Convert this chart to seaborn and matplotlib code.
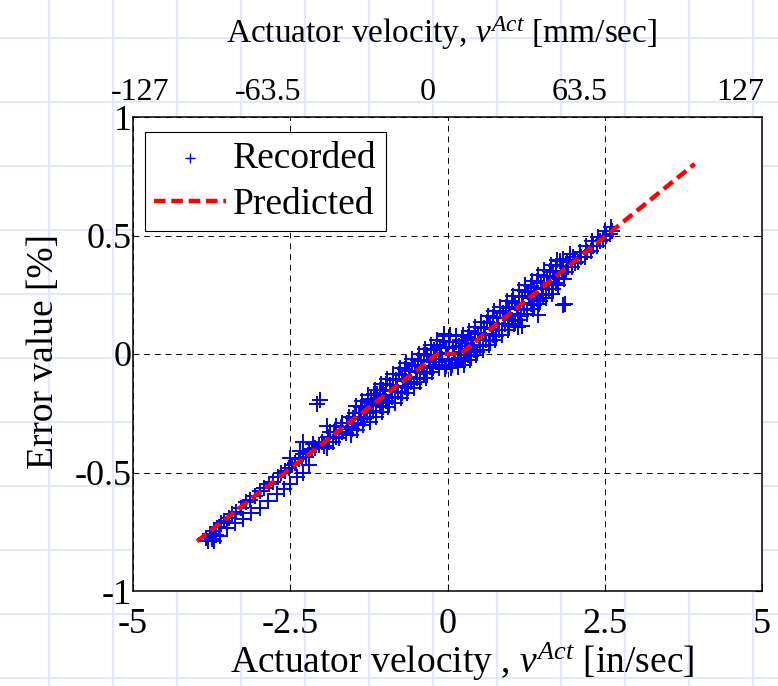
import numpy as np
import matplotlib
matplotlib.use('Agg')
import matplotlib.pyplot as plt
import seaborn as sns
from matplotlib.lines import Line2D

# 样式：白底，黑色文字，Times 风格字体
sns.set_style('white', rc={'axes.edgecolor': 'k', 'text.color': 'k', 'axes.labelcolor': 'k',
                           'xtick.color': 'k', 'ytick.color': 'k'})
plt.rcParams['font.family'] = ['Liberation Serif', 'DejaVu Serif']
plt.rcParams['mathtext.fontset'] = 'custom'
plt.rcParams['mathtext.rm'] = 'Liberation Serif'
plt.rcParams['mathtext.it'] = 'Liberation Serif:italic'

# ==================== 刻度 ====================
x_ticks = [-5, -2.5, 0, 2.5, 5]
x_labels = ['-5', '-2.5', '0', '2.5', '5']
y_ticks = [-1, -0.5, 0, 0.5, 1]
y_labels = ['-1', '-0.5', '0', '0.5', '1']
top_labels = ['-127', '-63.5', '0', '63.5', '127']
top_pos = [-124, -72.5, -8, 53.5, 118]  # mm/sec, where the top labels sit

# ==================== 预测曲线 ====================
pred_x = [-3.98, -3.0, -2.0, -1.0, -0.35, -0.22, -0.15, 0.0, 0.2, 0.28, 0.4, 1.0, 2.0, 3.0, 3.93]
pred_y = [-0.79, -0.587, -0.381, -0.175, -0.041, -0.012, 0.0, 0.0, 0.0, 0.014, 0.043, 0.172, 0.387, 0.602, 0.802]

# ==================== 记录数据 ====================
# 左下稀疏部分（沿线）
sparse_x = [-3.84, -3.80, -3.78, -3.75, -3.72, -3.68, -3.64, -3.60, -3.55, -3.48, -3.42, -3.36,
            -3.28, -3.20, -3.14, -3.06, -2.98, -2.92, -2.84, -2.78, -2.70, -2.64, -2.58, -2.52,
            -2.47, -2.42, -2.36, -2.30, -2.25, -2.20, -2.15, -2.10, -2.05, -2.00, -1.96]
sparse_y = [-0.775, -0.790, -0.760, -0.780, -0.745, -0.765, -0.730, -0.715, -0.705, -0.690, -0.675, -0.665,
            -0.650, -0.625, -0.615, -0.600, -0.580, -0.565, -0.550, -0.540, -0.520, -0.500, -0.495, -0.480,
            -0.470, -0.460, -0.445, -0.420, -0.435, -0.415, -0.400, -0.395, -0.385, -0.370, -0.390]
# 线下方的一串点
streak_x = [-3.72, -3.62, -3.50, -3.38, -3.25, -3.12, -2.98, -2.85, -2.71, -2.60, -2.50, -2.40, -2.30, -2.20]
streak_y = [-0.790, -0.770, -0.735, -0.715, -0.695, -0.672, -0.650, -0.620, -0.590, -0.570, -0.550, -0.520,
            -0.500, -0.470]
# 离群点
outlier_x = [-2.50, -2.35, -2.30, -2.14, -1.92, -2.07, -2.02, 1.87, 1.83, 1.44, 1.18, 1.12, 1.79, -0.05]
outlier_y = [-0.440, -0.410, -0.370, -0.380, -0.305, -0.210, -0.195, 0.210, 0.205, 0.165, 0.120, 0.115,
             0.394, 0.085]
# 中间密集带
band_x = [-1.92, -1.88, -1.90, -1.87, -1.82, -1.78, -1.80, -1.77, -1.72, -1.68, -1.70, -1.67,
          -1.62, -1.58, -1.60, -1.57, -1.52, -1.48, -1.50, -1.47, -1.42, -1.38, -1.40, -1.37,
          -1.32, -1.28, -1.30, -1.27,
          -1.23, -1.18, -1.20, -1.22, -1.17, -1.13, -1.08, -1.10, -1.12, -1.07,
          -1.03, -0.98, -1.00, -1.02, -0.97, -0.93, -0.88, -0.90, -0.92, -0.87,
          -0.83, -0.78, -0.80, -0.82, -0.77, -0.73, -0.68, -0.70, -0.72, -0.67,
          -0.63, -0.58, -0.60, -0.62, -0.57, -0.53, -0.48, -0.50, -0.52, -0.47,
          -0.43, -0.38, -0.40, -0.42, -0.37, -0.33, -0.28, -0.30, -0.32, -0.27,
          -0.23, -0.18, -0.20, -0.22, -0.17, -0.13, -0.08, -0.10, -0.12, -0.07,
          -0.03, 0.02, 0.00, -0.02, 0.03, 0.07, 0.12, 0.10, 0.08, 0.13,
          0.17, 0.22, 0.20, 0.18, 0.23, 0.27, 0.32, 0.30, 0.28, 0.33,
          0.37, 0.42, 0.40, 0.38, 0.43, 0.47, 0.52, 0.50, 0.48, 0.53,
          0.57, 0.62, 0.60, 0.58, 0.63, 0.67, 0.72, 0.70, 0.68, 0.73,
          0.77, 0.82, 0.80, 0.78, 0.83, 0.87, 0.92, 0.90, 0.88, 0.93,
          0.97, 1.02, 1.00, 0.98, 1.03, 1.07, 1.12, 1.10, 1.08, 1.13,
          1.17, 1.22, 1.20, 1.18, 1.23, 1.27, 1.32, 1.30, 1.28, 1.33,
          1.37, 1.42, 1.40, 1.38, 1.43, 1.47, 1.52, 1.50, 1.48, 1.53,
          1.57, 1.62, 1.60, 1.58, 1.63, 1.67, 1.72, 1.70, 1.68, 1.73,
          1.78, 1.82, 1.80, 1.88, 1.92, 1.90, 1.98, 2.02, 2.00,
          2.08, 2.12, 2.10, 2.18, 2.22, 2.20, 2.28, 2.32, 2.30,
          2.38, 2.42, 2.40, 2.48, 2.52, 2.50, 2.58, 2.62, 2.60]
band_y = [-0.395, -0.372, -0.350, -0.330, -0.370, -0.350, -0.330, -0.305, -0.355, -0.330, -0.310, -0.290,
          -0.335, -0.310, -0.290, -0.265, -0.315, -0.290, -0.270, -0.250, -0.295, -0.270, -0.250, -0.225,
          -0.275, -0.250, -0.230, -0.205,
          -0.265, -0.240, -0.215, -0.190, -0.170, -0.245, -0.220, -0.195, -0.170, -0.150,
          -0.225, -0.200, -0.175, -0.150, -0.125, -0.205, -0.180, -0.155, -0.130, -0.105,
          -0.185, -0.160, -0.135, -0.110, -0.085, -0.165, -0.140, -0.115, -0.090, -0.065,
          -0.145, -0.120, -0.095, -0.070, -0.045, -0.125, -0.100, -0.075, -0.050, -0.025,
          -0.105, -0.080, -0.055, -0.030, -0.005, -0.080, -0.055, -0.030, -0.005, 0.020,
          -0.060, -0.035, -0.010, 0.015, 0.040, -0.045, -0.020, 0.005, 0.030, 0.055,
          -0.050, -0.025, 0.000, 0.025, 0.050, -0.045, -0.020, 0.005, 0.030, 0.050,
          -0.040, -0.015, 0.010, 0.035, 0.060, -0.030, -0.005, 0.020, 0.045, 0.070,
          -0.010, 0.015, 0.040, 0.065, 0.090, 0.010, 0.035, 0.060, 0.085, 0.110,
          0.035, 0.060, 0.085, 0.110, 0.135, 0.055, 0.080, 0.105, 0.130, 0.155,
          0.075, 0.100, 0.125, 0.150, 0.180, 0.100, 0.125, 0.150, 0.175, 0.200,
          0.120, 0.145, 0.170, 0.195, 0.225, 0.140, 0.165, 0.190, 0.215, 0.245,
          0.160, 0.190, 0.215, 0.240, 0.265, 0.185, 0.210, 0.235, 0.260, 0.285,
          0.205, 0.230, 0.255, 0.280, 0.310, 0.225, 0.250, 0.275, 0.300, 0.330,
          0.250, 0.275, 0.300, 0.325, 0.350, 0.275, 0.300, 0.320, 0.345, 0.370,
          0.320, 0.345, 0.370, 0.345, 0.365, 0.390, 0.365, 0.385, 0.410,
          0.390, 0.410, 0.430, 0.410, 0.430, 0.455, 0.435, 0.455, 0.475,
          0.455, 0.475, 0.495, 0.480, 0.500, 0.520, 0.505, 0.520, 0.535]
# 密集带的上下边缘
edge_x = [-1.46, -1.54, -1.36, -1.44, -1.26, -1.34, -1.16, -1.24, -1.06, -1.14, -0.96, -1.04,
          -0.86, -0.94, -0.76, -0.84, -0.66, -0.74, -0.56, -0.64, -0.46, -0.54, -0.36, -0.44,
          -0.26, -0.34, -0.16, -0.24, -0.06, -0.14, 0.04, -0.04, 0.14, 0.06, 0.24, 0.16,
          0.34, 0.26, 0.44, 0.36, 0.54, 0.46, 0.64, 0.56, 0.74, 0.66, 0.84, 0.76,
          0.94, 0.86, 1.04, 0.96, 1.14, 1.06, 1.24, 1.16, 1.34, 1.26, 1.44, 1.36,
          1.54, 1.46, 1.64, 1.56, 1.74, 1.66, 1.84, 1.76, 1.94, 1.86]
edge_y = [-0.220, -0.340, -0.200, -0.320, -0.175, -0.300, -0.150, -0.285, -0.125, -0.265, -0.105, -0.245,
          -0.085, -0.225, -0.060, -0.205, -0.040, -0.185, -0.020, -0.165, 0.000, -0.145, 0.020, -0.120,
          0.040, -0.100, 0.060, -0.075, 0.075, -0.060, 0.080, -0.065, 0.075, -0.060, 0.080, -0.055,
          0.095, -0.045, 0.115, -0.025, 0.135, -0.005, 0.160, 0.015, 0.180, 0.040, 0.200, 0.060,
          0.225, 0.080, 0.245, 0.100, 0.270, 0.125, 0.290, 0.145, 0.310, 0.170, 0.335, 0.190,
          0.355, 0.210, 0.375, 0.235, 0.395, 0.255, 0.400, 0.290, 0.420, 0.315]

rec_x = sparse_x + streak_x + outlier_x + band_x + edge_x
rec_y = sparse_y + streak_y + outlier_y + band_y + edge_y

# ==================== 绘图 ====================
W, H = 778, 686
fig = plt.figure(figsize=(W / 100, H / 100), dpi=100)

# 背景的浅蓝色方格
for gx in np.arange(49.3, W, 64):
    fig.add_artist(Line2D([gx / W, gx / W], [0, 1], transform=fig.transFigure,
                          color='#e3e9fb', lw=1.6, zorder=-5))
for gy in np.arange(38.3, H, 64):
    fig.add_artist(Line2D([0, 1], [1 - gy / H, 1 - gy / H], transform=fig.transFigure,
                          color='#e3e9fb', lw=1.6, zorder=-5))

ax = fig.add_axes([133 / W, 95 / H, 629 / W, 474 / H])
ax.set_facecolor('white')

sns.scatterplot(x=rec_x, y=rec_y, marker='+', color='#0000ff', s=130, linewidth=1.4,
                ax=ax, label='Recorded', zorder=3)
sns.lineplot(x=pred_x, y=pred_y, color='#ff0000', lw=3.2, linestyle=(0, (2.6, 1.3)),
             ax=ax, label='Predicted', zorder=4)

ax.set_xlim(-5, 5)
ax.set_ylim(-1, 1)
ax.set_xticks(x_ticks)
ax.set_xticklabels(x_labels)
ax.set_yticks(y_ticks)
ax.set_yticklabels(y_labels)
ax.grid(True, color='k', ls=(0, (6, 5)), lw=0.7)
ax.set_axisbelow(True)
ax.tick_params(direction='in', length=5, width=0.8, top=True, right=True, labelsize=26)
ax.tick_params(axis='x', pad=12)
ax.tick_params(axis='y', pad=1)
for sp in ax.spines.values():
    sp.set_linewidth(1.1)
    sp.set_color('k')

ax.set_xlabel('Actuator velocity , $v^{Act}$ [in/sec]', fontsize=27, va='center')
ax.xaxis.set_label_coords(0.523, -0.150)
ax.set_ylabel('Error value [%]', fontsize=27, va='center')
ax.yaxis.set_label_coords(-0.142, 0.505)

leg = ax.legend(loc='upper left', bbox_to_anchor=(0.019, 0.968), borderaxespad=0, fontsize=27,
                frameon=True, fancybox=False, edgecolor='k', framealpha=1, handlelength=1.9,
                handletextpad=0.2, borderpad=0.25, labelspacing=0.3, scatterpoints=1)
leg.get_frame().set_linewidth(0.8)
leg.legend_handles[0].set_sizes([55])
leg.legend_handles[0].set_linewidth(1.0)

# 顶部 mm/sec 坐标
ax2 = ax.twiny()
ax2.set_xlim(-127, 127)
ax2.set_xticks(top_pos)
ax2.set_xticklabels(top_labels, fontsize=23)
ax2.tick_params(length=0, pad=7)
ax2.set_xlabel('Actuator velocity, $v^{Act}$ [mm/sec]', fontsize=24, va='center')
ax2.xaxis.set_label_coords(0.490, 1.177)
for sp in ax2.spines.values():
    sp.set_visible(False)

fig.savefig('out.png', dpi=100)
